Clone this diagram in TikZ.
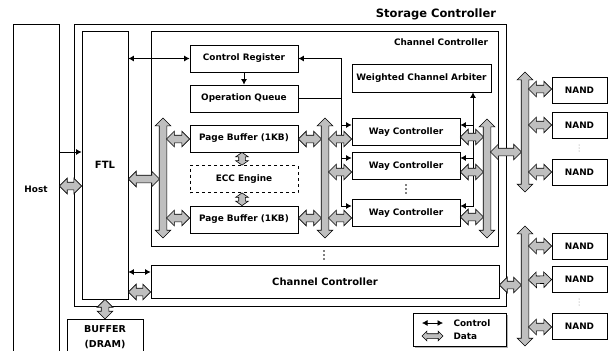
\documentclass[tikz,border=0pt]{standalone}
\usepackage{fontspec}
\setmainfont{DejaVu Sans}
\usetikzlibrary{shapes.arrows,arrows.meta,calc,shadows}
\definecolor{busgray}{gray}{0.75}
\newcommand\databus[3][]{%
  \path let \p1=(#2), \p2=(#3), \n1={atan2(\y2-\y1,\x2-\x1)}, \n2={veclen(\x2-\x1,\y2-\y1)} in
    node[bus,minimum height=\n2,rotate=\n1,#1] at ($(\p1)!0.5!(\p2)$) {};}
\begin{document}
\begin{tikzpicture}[
x=1pt,y=-1pt,
every node/.style={font=\bfseries\fontsize{8.9}{10}\selectfont},
frame/.style={draw,line width=0.8pt,inner sep=0pt},
blk/.style={frame,minimum width=108pt,minimum height=27pt},
nand/.style={frame,minimum width=55pt,minimum height=26pt},
bus/.style={double arrow,draw,line width=0.6pt,fill=busgray,inner xsep=0pt,inner ysep=3.5pt,
  double arrow head extend=4pt,double arrow tip angle=90},
smallbus/.style={inner ysep=3pt,double arrow head extend=3pt,double arrow tip angle=110},
ctl/.style={line width=0.8pt,{Latex[length=5.5pt,width=6pt]}-{Latex[length=5.5pt,width=6pt]}},
ctlr/.style={line width=0.8pt,-{Latex[length=5.5pt,width=6pt]}},
]
\useasboundingbox (0,0) rectangle (611,351);

% frames
\node[frame,minimum width=46pt,minimum height=330pt] (host) at (36,189) {Host};
\node[frame,minimum width=432pt,minimum height=282pt] (stc) at (290,165) {};
\node[font=\bfseries\fontsize{11.5}{12}\selectfont] (stct) at (436,14) {Storage Controller};
\node[frame,minimum width=46pt,minimum height=268pt,font=\bfseries\fontsize{10}{11}\selectfont] (ftl) at (105,165) {FTL};
\node[frame,minimum width=347pt,minimum height=215pt] (cc1) at (324.5,138.5) {};
\node (cc1t) at (441,42) {Channel Controller};
\node[frame,minimum width=348pt,minimum height=33pt,font=\bfseries\fontsize{10}{11}\selectfont] (cc2) at (325,281.5) {Channel Controller};
\node[frame,minimum width=76pt,minimum height=36pt,anchor=north,align=center,
  font=\bfseries\fontsize{9.5}{15}\selectfont] (buf) at (105,319) {BUFFER\\(DRAM)};

% blocks
\node[blk] (creg) at (244,58.5) {Control Register};
\node[blk] (opq) at (244,98.5) {Operation Queue};
\node[blk] (pb1) at (244,138.5) {Page Buffer (1KB)};
\node[blk,dashed] (ecc) at (244,179) {ECC Engine};
\node[blk] (pb2) at (244,219.5) {Page Buffer (1KB)};
\node[blk,minimum width=139pt,minimum height=28pt] (arb) at (421.5,78) {Weighted Channel Arbiter};
\node[blk] (wc1) at (406,132) {Way Controller};
\node[blk] (wc2) at (406,166) {Way Controller};
\node[blk] (wc3) at (406,213) {Way Controller};

\node[nand] (nand1) at (579.5,90) {NAND};
\node[nand] (nand2) at (579.5,125) {NAND};
\node[nand] (nand3) at (579.5,172) {NAND};
\node[nand] (nand4) at (579.5,246) {NAND};
\node[nand] (nand5) at (579.5,279.5) {NAND};
\node[nand] (nand6) at (579.5,326.5) {NAND};

% dots
\coordinate (wdots) at (406,189);
\coordinate (cdots) at (324,255);
\coordinate (ndots1) at (579,148);
\coordinate (ndots2) at (579,302);
\foreach \d in {-4,0,4}{
  \fill (wdots) ++(0,\d) circle (0.85pt);
  \fill (cdots) ++(0,\d) circle (0.85pt);
}
\foreach \d in {-3,0,3}{
  \fill[gray] (ndots1) ++(0,\d) circle (0.5pt);
  \fill[gray] (ndots2) ++(0,\d) circle (0.5pt);
}

% bus ends and edges
\coordinate (at) at (163,118); \coordinate (ab) at (163,238);
\coordinate (bt) at (325,118); \coordinate (bb) at (325,238);
\coordinate (ct) at (487,119); \coordinate (cb) at (487,238);
\coordinate (dt) at (525,72);  \coordinate (db) at (525,192);
\coordinate (et) at (525,226); \coordinate (eb) at (525,346);
\coordinate (aL) at (159.5,0); \coordinate (aR) at (166.5,0);
\coordinate (bL) at (321.5,0); \coordinate (bR) at (328.5,0);
\coordinate (cL) at (483.5,0); \coordinate (cR) at (490.5,0);
\coordinate (dL) at (521.5,0); \coordinate (dR) at (528.5,0);

% control
\draw[ctlr] (host.east |- 0,152) -- (ftl.west |- 0,152);
\draw[ctl] (ftl.east |- creg.west) -- (creg.west);
\draw[ctlr] (creg.south) -- (opq.north);
\coordinate (cvt) at (341,58.5);
\coordinate (cvb) at (341,206);
\draw[ctl] (creg.east) -- (cvt) -- (cvb) -- (wc3.west |- cvb);
\draw[ctlr] (cvt |- 0,125) -- (wc1.west |- 0,125);
\draw[ctlr] (cvt |- 0,158) -- (wc2.west |- 0,158);
\draw[line width=0.8pt] (opq.east) -- (opq.east -| cvt);
\coordinate (avb) at (473,206);
\draw[ctl] (wc3.east |- avb) -- (avb) -- (avb |- arb.south);
\draw[ctlr] (avb |- 0,125) -- (wc1.east |- 0,125);
\draw[ctlr] (avb |- 0,158) -- (wc2.east |- 0,158);
\draw[ctl] (ftl.east |- 0,272) -- (cc2.west |- 0,272);

% data
\databus{host.east |- 0,186}{ftl.west |- 0,186}
\databus{ftl.east |- 0,179}{aL |- 0,179}
\databus{ftl.east |- 0,292}{cc2.west |- 0,292}
\databus{ftl.south}{buf.north}
\databus{at}{ab}
\databus{aR |- 0,139}{pb1.west |- 0,139}
\databus{aR |- 0,218}{pb2.west |- 0,218}
\databus[smallbus]{pb1.south -| 242,0}{ecc.north -| 242,0}
\databus[smallbus]{ecc.south -| 242,0}{pb2.north -| 242,0}
\databus{pb1.east |- 0,139}{bL |- 0,139}
\databus{pb2.east |- 0,218}{bL |- 0,218}
\databus{bt}{bb}
\databus{bR |- 0,139}{wc1.west |- 0,139}
\databus{bR |- 0,172}{wc2.west |- 0,172}
\databus{bR |- 0,218}{wc3.west |- 0,218}
\databus{wc1.east |- 0,137}{cL |- 0,137}
\databus{wc2.east |- 0,172}{cL |- 0,172}
\databus{wc3.east |- 0,217}{cL |- 0,217}
\databus{ct}{cb}
\databus{cR |- 0,152}{dL |- 0,152}
\databus{dt}{db}
\databus{dR |- 0,89}{nand1.west |- 0,89}
\databus{dR |- 0,125}{nand2.west |- 0,125}
\databus{dR |- 0,172}{nand3.west |- 0,172}
\databus{cc2.east |- 0,285}{dL |- 0,285}
\databus{et}{eb}
\databus{dR |- 0,246}{nand4.west}
\databus{dR |- 0,280}{nand5.west}
\databus{dR |- 0,327}{nand6.west |- 0,327}

% legend
\node[frame,fill=white,minimum width=93pt,minimum height=33pt,
  drop shadow={shadow xshift=1.5pt,shadow yshift=-1.5pt,opacity=0.6}] (lgd) at (459.5,329.5) {};
\node[anchor=west] (lgc) at (450,323) {Control};
\node[anchor=west] (lgdt) at (450,336) {Data};
\coordinate (lgs1) at (422,323);
\coordinate (lgs2) at (422,336);
\draw[ctl] (lgs1) -- ([xshift=-7pt]lgc.west);
\databus[inner ysep=2pt,double arrow head extend=2.5pt]{lgs2}{[xshift=-7pt]lgdt.west}
\end{tikzpicture}
\end{document}
